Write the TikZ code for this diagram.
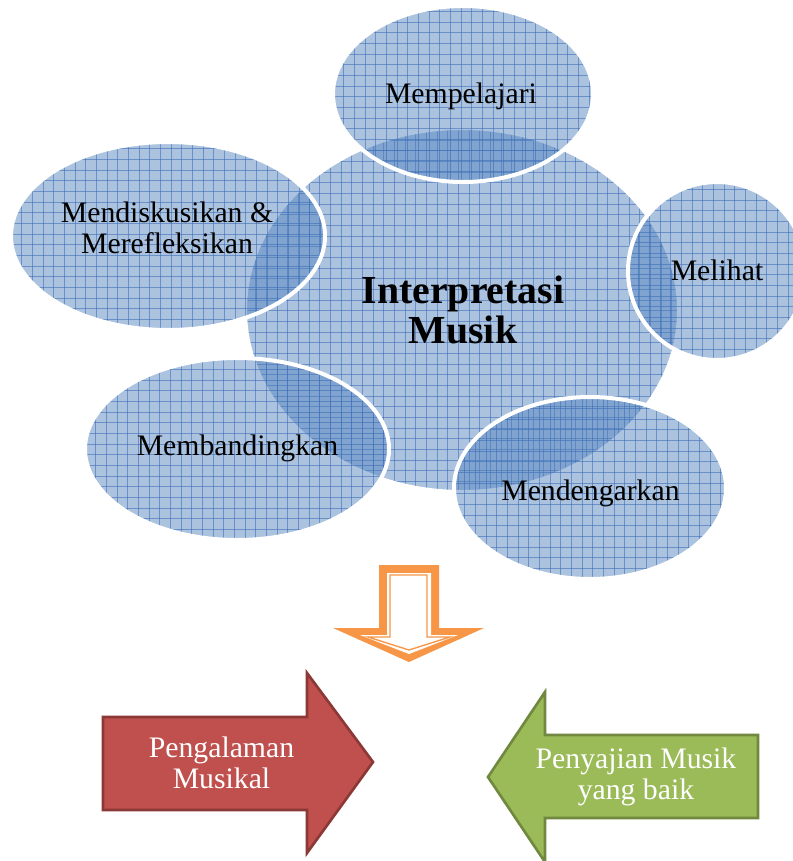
\documentclass[tikz,border=0pt]{standalone}
\usepackage{fontspec}
\setmainfont{Liberation Serif}
\usetikzlibrary{shapes.geometric}
\definecolor{blobc}{HTML}{4F81BD}
\definecolor{gridc}{HTML}{3E6FB8}
\definecolor{orangec}{HTML}{F79646}
\definecolor{redfill}{HTML}{C0504D}
\definecolor{redline}{HTML}{8C3836}
\definecolor{greenfill}{HTML}{9BBB59}
\definecolor{greenline}{HTML}{71893F}
\newcommand\normtext{\fontsize{22.3}{23}\selectfont}
\newcommand\bigtext{\fontsize{29.8}{30}\selectfont\bfseries}
\tikzset{
  blob/.style={ellipse, inner sep=0pt, fill=blobc, fill opacity=0.47,
    draw=white, draw opacity=1, line width=3pt,
    path picture={
      \foreach \k in {0,...,42}{
        \draw[gridc, draw opacity=0.6, line width=0.75pt]
          ([xshift=\k*8pt]path picture bounding box.south west) --
          ([xshift=\k*8pt]path picture bounding box.north west);
        \draw[gridc, draw opacity=0.6, line width=0.75pt]
          ([yshift=\k*8pt]path picture bounding box.south west) --
          ([yshift=\k*8pt]path picture bounding box.south east);
      }
    }},
  lbl/.style={inner sep=0pt, align=center, font=\normtext, text=black},
  wlbl/.style={inner sep=0pt, align=center, font=\normtext, text=white},
  redarrow/.style={fill=redfill, draw=redline, line width=2pt, line join=miter},
  greenarrow/.style={fill=greenfill, draw=greenline, line width=2pt, line join=miter},
}
\begin{document}
\begin{tikzpicture}[x=0.75pt,y=0.75pt]
\useasboundingbox[fill=white] (0,0) rectangle (793,-861);
% ellipses
\node (central) [blob, minimum width=325.5pt, minimum height=273pt] at (462,-310) {};
\node (e1) [blob, minimum width=195pt, minimum height=132pt] at (463,-94) {};
\node (e2) [blob, minimum width=235.5pt, minimum height=141pt] at (168,-236) {};
\node (e3) [blob, minimum width=133.5pt, minimum height=133.5pt] at (717,-271) {};
\node (e4) [blob, minimum width=228pt, minimum height=136.5pt] at (237,-449) {};
\node (e5) [blob, minimum width=204pt, minimum height=136.5pt] at (590,-488) {};
% labels
\node (tc) [lbl, font=\bigtext] at (463,-309.5) {Interpretasi\\Musik};
\node (t1) [lbl, anchor=base] at (461,-103) {Mempelajari};
\node (t2) [lbl] at (167,-228) {Mendiskusikan \&\\Merefleksikan};
\node (t3) [lbl, anchor=base] at (717,-280) {Melihat};
\node (t4) [lbl, anchor=base] at (237.5,-455) {Membandingkan};
\node (t5) [lbl, anchor=base] at (590.5,-500) {Mendengarkan};
% orange down arrow
\fill[orangec] (379,-565) -- (439,-565) -- (439,-628) -- (484,-628) -- (409,-662) -- (333,-628) -- (379,-628) -- cycle;
\fill[white] (387,-573) -- (431,-573) -- (431,-635) -- (458,-635) -- (409,-654) -- (360,-635) -- (387,-635) -- cycle;
\draw[orangec, line width=1pt] (390,-575) -- (427,-575) -- (427,-637) -- (450,-637) -- (409,-650) -- (368,-637) -- (390,-637) -- cycle;
% red arrow
\draw[redarrow] (103,-717) -- (307,-717) -- (307,-673) -- (373,-762) -- (307,-853) -- (307,-810) -- (103,-810) -- cycle;
\node (pm) [wlbl] at (221.5,-762.5) {Pengalaman\\Musikal};
% green arrow
\draw[greenarrow] (488,-777) -- (545,-692) -- (545,-735) -- (758,-735) -- (758,-818) -- (545,-818) -- (545,-862) -- cycle;
\node (pb) [wlbl] at (636,-777) {Penyajian Musik\\yang baik};
\end{tikzpicture}
\end{document}
